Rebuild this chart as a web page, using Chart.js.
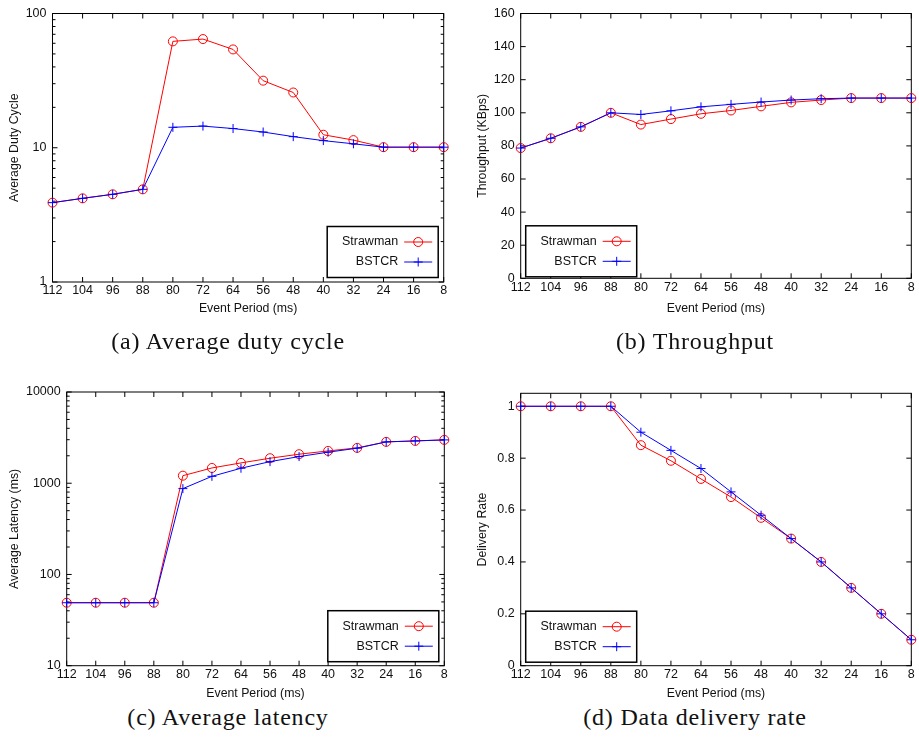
<!DOCTYPE html>
<html lang="en">
<head>
    <meta charset="UTF-8">
    <title>Strawman vs BSTCR</title>
    <script src="https://cdn.jsdelivr.net/npm/chart.js@4/dist/chart.umd.min.js"></script>
    <style>
        body { margin: 0; background: #fff; width: 919px; height: 740px; position: relative; overflow: hidden; }
        canvas { position: absolute; }
        .cap { position: absolute; transform: translate(-50%, -50%); white-space: nowrap;
               font-family: "Liberation Serif", serif; font-size: 24px; letter-spacing: 0.8px; color: #111; }
    </style>
</head>
<body>
    <canvas id="pa" width="459" height="330" style="left:0;top:0"></canvas>
    <canvas id="pb" width="460" height="330" style="left:459px;top:0"></canvas>
    <canvas id="pc" width="459" height="330" style="left:0;top:370px"></canvas>
    <canvas id="pd" width="460" height="330" style="left:459px;top:370px"></canvas>

    <div class="cap" style="left:228px;top:341px">(a) Average duty cycle</div>
    <div class="cap" style="left:695px;top:341px">(b) Throughput</div>
    <div class="cap" style="left:228px;top:717px">(c) Average latency</div>
    <div class="cap" style="left:695px;top:717px">(d) Data delivery rate</div>

    <script>
        // Event periods (ms), x axis categories
        const periods = ['112', '104', '96', '88', '80', '72', '64', '56', '48', '40', '32', '24', '16', '8'];

        // (a) average duty cycle (log scale)
        const dutyStrawman = [3.9, 4.2, 4.5, 4.9, 62, 64.5, 54, 31.6, 25.8, 12.5, 11.4, 10.1, 10.1, 10.1];
        const dutyBstcr    = [3.9, 4.2, 4.5, 4.9, 14.2, 14.5, 13.9, 13.1, 12.1, 11.3, 10.7, 10.1, 10.1, 10.1];
        const dutyTicks    = [1, 10, 100];

        // (b) throughput, KBps
        const thrStrawman = [78.7, 84.6, 91.5, 100, 92.9, 96.2, 99.4, 101.4, 103.9, 106.3, 107.7, 108.9, 108.9, 108.9];
        const thrBstcr    = [78.7, 84.6, 91.5, 100, 99, 101.2, 103.6, 105.1, 106.5, 107.7, 108.5, 108.9, 108.9, 108.9];
        const thrTicks    = [0, 20, 40, 60, 80, 100, 120, 140, 160];

        // (c) average latency, ms (log scale)
        const latStrawman = [49, 49, 49, 49, 1210, 1470, 1670, 1880, 2080, 2260, 2440, 2840, 2910, 2985];
        const latBstcr    = [49, 49, 49, 49, 873, 1190, 1460, 1725, 1960, 2190, 2420, 2840, 2910, 2985];
        const latTicks    = [10, 100, 1000, 10000];

        // (d) delivery rate
        const delStrawman = [1, 1, 1, 1, 0.85, 0.79, 0.72, 0.65, 0.57, 0.49, 0.40, 0.30, 0.20, 0.10];
        const delBstcr    = [1, 1, 1, 1, 0.90, 0.83, 0.76, 0.67, 0.58, 0.49, 0.40, 0.30, 0.20, 0.10];
        const delTicks    = [0, 0.2, 0.4, 0.6, 0.8, 1];

        const seriesNames = ['Strawman', 'BSTCR'];
        const TXT = '#111';

        // gnuplot style frame with inward tics
        const framePlugin = {
            id: 'gpFrame',
            beforeDatasetsDraw(chart) {
                const { ctx, chartArea: a, scales: { x, y } } = chart;
                ctx.save();
                ctx.strokeStyle = '#000';
                ctx.lineWidth = 1;
                ctx.beginPath();
                x.ticks.forEach((t, i) => {
                    const px = x.getPixelForTick(i);
                    ctx.moveTo(px, a.bottom); ctx.lineTo(px, a.bottom - 5);
                    ctx.moveTo(px, a.top); ctx.lineTo(px, a.top + 5);
                });
                y.ticks.forEach(t => {
                    const py = y.getPixelForValue(t.value);
                    ctx.moveTo(a.left, py); ctx.lineTo(a.left + 5, py);
                    ctx.moveTo(a.right, py); ctx.lineTo(a.right - 5, py);
                });
                if (y.type === 'logarithmic') {
                    for (let d = y.min; d < y.max; d *= 10) {
                        for (let k = 2; k < 10; k++) {
                            const py = y.getPixelForValue(k * d);
                            ctx.moveTo(a.left, py); ctx.lineTo(a.left + 3, py);
                            ctx.moveTo(a.right, py); ctx.lineTo(a.right - 3, py);
                        }
                    }
                }
                ctx.stroke();
                ctx.strokeRect(a.left, a.top, a.width, a.height);
                ctx.restore();
            }
        };

        function drawMarker(ctx, style, x, y, color) {
            ctx.strokeStyle = color;
            ctx.beginPath();
            if (style === 'circle') {
                ctx.arc(x, y, 4.5, 0, Math.PI * 2);
            } else {
                ctx.moveTo(x - 4.5, y); ctx.lineTo(x + 4.5, y);
                ctx.moveTo(x, y - 4.5); ctx.lineTo(x, y + 4.5);
            }
            ctx.stroke();
        }

        // key box inside the plot, like gnuplot
        const legendPlugin = {
            id: 'gpLegend',
            afterDatasetsDraw(chart, args, opts) {
                const { ctx, chartArea: a } = chart;
                const w = 111, h = 51;
                const left = opts.side === 'right' ? a.right - 5.5 - w : a.left + 5;
                const top = a.bottom - opts.gap - h;
                ctx.save();
                ctx.fillStyle = '#fff';
                ctx.fillRect(left, top, w, h);
                ctx.strokeStyle = '#000';
                ctx.lineWidth = 1.5;
                ctx.strokeRect(left, top, w, h);
                ctx.font = '12.5px "Liberation Sans", Arial, sans-serif';
                ctx.textAlign = 'right';
                ctx.textBaseline = 'middle';
                chart.data.datasets.forEach((ds, i) => {
                    const yy = top + 15.5 + i * 20;
                    ctx.fillStyle = TXT;
                    ctx.fillText(ds.label, left + 71, yy);
                    ctx.strokeStyle = ds.borderColor;
                    ctx.lineWidth = 1;
                    ctx.beginPath();
                    ctx.moveTo(left + 77, yy); ctx.lineTo(left + 105, yy);
                    ctx.stroke();
                    drawMarker(ctx, ds.pointStyle, left + 91, yy, ds.borderColor);
                });
                ctx.restore();
            }
        };

        function makePanel(id, p) {
            const tickFont = { family: '"Liberation Sans", Arial, sans-serif', size: 12.5 };
            const titleFont = { family: '"Liberation Sans", Arial, sans-serif', size: 12.3, lineHeight: 1.2 };
            const half = 12.3 * 1.2 / 2;
            const bottomEdge = p.canvas.top + p.canvas.h;
            new Chart(document.getElementById(id), {
                type: 'line',
                data: {
                    labels: periods,
                    datasets: [
                        {
                            label: seriesNames[0], data: p.s1, order: 1,
                            borderColor: '#ff0000', borderWidth: 1,
                            pointStyle: 'circle', pointRadius: 4.5, pointBorderWidth: 1,
                            pointBorderColor: '#ff0000', pointBackgroundColor: 'rgba(0,0,0,0)',
                            tension: 0, clip: false
                        },
                        {
                            label: seriesNames[1], data: p.s2, order: 0,
                            borderColor: '#0000ff', borderWidth: 1,
                            pointStyle: 'cross', pointRadius: 4.5, pointBorderWidth: 1,
                            pointBorderColor: '#0000ff', pointBackgroundColor: '#0000ff',
                            tension: 0, clip: false
                        }
                    ]
                },
                options: {
                    responsive: false,
                    animation: false,
                    devicePixelRatio: 1,
                    layout: {
                        padding: {
                            top: p.area.t - p.canvas.top,
                            right: p.canvas.left + p.canvas.w - p.area.r,
                            left: 0,
                            bottom: 0
                        }
                    },
                    plugins: {
                        legend: { display: false },
                        tooltip: { enabled: false },
                        gpLegend: { side: p.legendSide, gap: p.legendGap }
                    },
                    scales: {
                        x: {
                            type: 'category',
                            offset: false,
                            grid: { display: false, drawTicks: false },
                            border: { display: false },
                            ticks: { color: TXT, font: tickFont, padding: 1.5, autoSkip: false, maxRotation: 0 },
                            title: {
                                display: true, text: 'Event Period (ms)', color: TXT, font: titleFont,
                                padding: { top: 0, bottom: bottomEdge - p.xTitleY - half }
                            },
                            afterFit: s => { s.height = bottomEdge - p.area.b; }
                        },
                        y: {
                            type: p.yType,
                            min: p.yMin,
                            max: p.yMax,
                            grid: { display: false, drawTicks: false },
                            border: { display: false },
                            ticks: { color: TXT, font: tickFont, padding: 6, callback: v => String(v) },
                            afterBuildTicks: s => { s.ticks = p.yTicks.map(v => ({ value: v })); },
                            title: {
                                display: true, text: p.yTitle, color: TXT, font: titleFont,
                                padding: { top: p.yTitleX - p.canvas.left - half, bottom: 0 }
                            },
                            afterFit: s => { s.width = p.area.l - p.canvas.left; }
                        }
                    }
                },
                plugins: [framePlugin, legendPlugin]
            });
        }

        makePanel('pa', {
            canvas: { left: 0, top: 0, w: 459, h: 330 },
            area: { l: 52.5, t: 9, r: 443.7, b: 282 },
            xTitleY: 309, yTitleX: 14.5,
            yType: 'logarithmic', yMin: 1, yMax: 100, yTicks: dutyTicks,
            yTitle: 'Average Duty Cycle',
            s1: dutyStrawman, s2: dutyBstcr,
            legendSide: 'right', legendGap: 4.5
        });
        makePanel('pb', {
            canvas: { left: 459, top: 0, w: 460, h: 330 },
            area: { l: 520.7, t: 8, r: 911.3, b: 278.3 },
            xTitleY: 308.3, yTitleX: 482.3,
            yType: 'linear', yMin: 0, yMax: 160, yTicks: thrTicks,
            yTitle: 'Throughput (KBps)',
            s1: thrStrawman, s2: thrBstcr,
            legendSide: 'left', legendGap: 1.5
        });
        makePanel('pc', {
            canvas: { left: 0, top: 370, w: 459, h: 330 },
            area: { l: 66.7, t: 392, r: 444.3, b: 665.7 },
            xTitleY: 693.3, yTitleX: 14.5,
            yType: 'logarithmic', yMin: 10, yMax: 10000, yTicks: latTicks,
            yTitle: 'Average Latency (ms)',
            s1: latStrawman, s2: latBstcr,
            legendSide: 'right', legendGap: 4
        });
        makePanel('pd', {
            canvas: { left: 459, top: 370, w: 460, h: 330 },
            area: { l: 520.7, t: 393.3, r: 911.3, b: 665.7 },
            xTitleY: 693.3, yTitleX: 482.3,
            yType: 'linear', yMin: 0, yMax: 1.05, yTicks: delTicks,
            yTitle: 'Delivery Rate',
            s1: delStrawman, s2: delBstcr,
            legendSide: 'left', legendGap: 3.5
        });
    </script>
</body>
</html>
